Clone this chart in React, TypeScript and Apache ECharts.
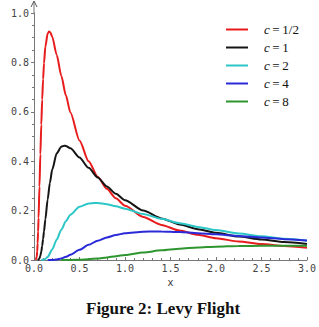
import React, { useEffect, useRef } from "react";
import * as echarts from "echarts";

const seriesNames = ["1/2", "1", "2", "4", "8"];
const seriesColors = ["#e81c1c", "#151515", "#2cc6c6", "#2a2ad8", "#2f952f"];

const xTicks = [0, 0.5, 1, 1.5, 2, 2.5, 3];
const yTicks = [0, 0.2, 0.4, 0.6, 0.8, 1.0];

const c05: [number, number][] = [
  [0.02, 0.0004], [0.03, 0.013], [0.035, 0.034], [0.04, 0.068], [0.045, 0.114], [0.05, 0.17],
  [0.06, 0.2975], [0.07, 0.428], [0.08, 0.548], [0.09, 0.65], [0.1, 0.732], [0.11, 0.797],
  [0.125, 0.864], [0.15, 0.917], [0.1667, 0.925], [0.18, 0.921], [0.2, 0.904], [0.25, 0.83],
  [0.3, 0.746], [0.35, 0.667], [0.4, 0.597], [0.5, 0.484], [0.6, 0.4], [0.7, 0.337],
  [0.8, 0.288], [0.9, 0.25], [1.0, 0.22], [1.2, 0.174], [1.4, 0.142], [1.6, 0.119],
  [1.8, 0.102], [2.0, 0.088], [2.25, 0.075], [2.5, 0.065], [2.75, 0.0565], [3.0, 0.05],
];
const c1: [number, number][] = [
  [0.04, 0.0002], [0.05, 0.0016], [0.06, 0.0065], [0.07, 0.017], [0.08, 0.034], [0.09, 0.057],
  [0.1, 0.085], [0.11, 0.116], [0.125, 0.165], [0.15, 0.245], [0.175, 0.313], [0.2, 0.366],
  [0.25, 0.432], [0.3, 0.459], [0.3333, 0.463], [0.35, 0.462], [0.4, 0.452], [0.5, 0.415],
  [0.6, 0.373], [0.7, 0.334], [0.8, 0.298], [0.9, 0.268], [1.0, 0.242], [1.2, 0.2],
  [1.4, 0.1685], [1.6, 0.144], [1.8, 0.125], [2.0, 0.11], [2.25, 0.095], [2.5, 0.083],
  [2.75, 0.073], [3.0, 0.065],
];
const c2: [number, number][] = [
  [0.08, 0.0001], [0.1, 0.0008], [0.125, 0.0043], [0.15, 0.0124], [0.2, 0.0425], [0.25, 0.083],
  [0.3, 0.1225], [0.35, 0.1565], [0.4, 0.183], [0.5, 0.216], [0.6, 0.229], [0.6667, 0.231],
  [0.7, 0.231], [0.8, 0.226], [0.9, 0.2175], [1.0, 0.2076], [1.2, 0.1865], [1.4, 0.1667],
  [1.6, 0.149], [1.8, 0.134], [2.0, 0.121], [2.25, 0.107], [2.5, 0.096], [2.75, 0.086],
  [3.0, 0.078],
];
const c4: [number, number][] = [
  [0.15, 0.0], [0.2, 0.0004], [0.25, 0.0021], [0.3, 0.0062], [0.35, 0.0127], [0.4, 0.0213],
  [0.5, 0.0413], [0.6, 0.0613], [0.7, 0.0783], [0.8, 0.0915], [0.9, 0.1013], [1.0, 0.108],
  [1.2, 0.1146], [1.3333, 0.1156], [1.4, 0.1154], [1.6, 0.113], [1.8, 0.1088], [2.0, 0.1038],
  [2.25, 0.0972], [2.5, 0.0907], [2.75, 0.0845], [3.0, 0.0788],
];
const c8: [number, number][] = [
  [0.3, 0.0], [0.4, 0.0002], [0.5, 0.0011], [0.6, 0.0031], [0.7, 0.0064], [0.8, 0.0106],
  [0.9, 0.0155], [1.0, 0.0207], [1.2, 0.0306], [1.4, 0.0391], [1.6, 0.0458], [1.8, 0.0506],
  [2.0, 0.054], [2.25, 0.0565], [2.5, 0.0576], [2.75, 0.0578], [3.0, 0.0572],
];

const allData = [c05, c1, c2, c4, c8];

export default function App() {
  const ref = useRef<HTMLDivElement>(null);
  useEffect(() => {
    if (!ref.current) return;
    const chart = echarts.init(ref.current, null, { renderer: "svg" });
    const labelFont = {
      fontFamily: "DejaVu Sans Mono",
      fontSize: 10,
      color: "#444",
    };
    chart.setOption({
      animation: false,
      backgroundColor: "#ffffff",
      grid: { left: 34, right: 4, top: 13, bottom: 67, containLabel: false },
      legend: {
        orient: "vertical",
        left: 221,
        top: 18,
        itemWidth: 22,
        itemHeight: 2,
        itemGap: 5,
        icon: "rect",
        data: seriesNames.map((n) => "c = " + n),
        formatter: (name: string) => "{i|c}{n|\u2009=\u2009" + name.slice(4) + "}",
        textStyle: {
          rich: {
            i: {
              fontFamily: "Liberation Serif",
              fontStyle: "italic",
              fontSize: 13,
              color: "#111",
              lineHeight: 14,
              padding: [0, 0, 0, 11],
            },
            n: {
              fontFamily: "Liberation Serif",
              fontSize: 13,
              color: "#111",
              lineHeight: 14,
            },
          },
        },
      },
      xAxis: {
        type: "value",
        min: xTicks[0],
        max: xTicks[xTicks.length - 1],
        interval: 0.5,
        name: "x",
        nameLocation: "middle",
        nameGap: 14,
        nameTextStyle: { fontFamily: "DejaVu Sans", fontSize: 10, color: "#444" },
        axisLine: { show: true, lineStyle: { color: "#777", width: 1 } },
        axisTick: { show: true, inside: true, length: 3, lineStyle: { color: "#777" } },
        minorTick: { show: true, splitNumber: 5, length: 2, lineStyle: { color: "#777" } },
        splitLine: { show: false },
        axisLabel: {
          ...labelFont,
          margin: 3,
          showMaxLabel: true,
          formatter: (v: number) => v.toFixed(1),
        },
      },
      yAxis: {
        type: "value",
        min: yTicks[0],
        max: yTicks[yTicks.length - 1],
        interval: 0.2,
        axisLine: { show: true, lineStyle: { color: "#777", width: 1 } },
        axisTick: { show: true, inside: false, length: 3, lineStyle: { color: "#777" } },
        minorTick: { show: true, splitNumber: 4, length: 2, lineStyle: { color: "#777" } },
        splitLine: { show: false },
        axisLabel: {
          ...labelFont,
          margin: 5,
          formatter: (v: number) => v.toFixed(1),
        },
      },
      graphic: [
        {
          type: "line",
          shape: { x1: 34, y1: 13, x2: 34, y2: 2 },
          style: { stroke: "#777", lineWidth: 1 },
        },
        {
          type: "polyline",
          shape: { points: [[31, 7], [34, 1], [37, 7]] },
          style: { stroke: "#555", lineWidth: 1, fill: null },
        },
        {
          type: "text",
          left: 86,
          top: 300,
          style: {
            text: "Figure 2: Levy Flight",
            font: "bold 17px 'Liberation Serif'",
            fill: "#111",
          },
        },
      ],
      series: allData.map((d, i) => ({
        name: "c = " + seriesNames[i],
        type: "line",
        data: d,
        showSymbol: false,
        smooth: 0.25,
        smoothMonotone: "x",
        clip: true,
        color: seriesColors[i],
        lineStyle: { width: 2, color: seriesColors[i] },
        z: 2 + i,
      })),
    });
    return () => chart.dispose();
  }, []);
  return (
    <div
      ref={ref}
      style={{ position: "absolute", left: 0, top: 0, width: 319, height: 327 }}
    />
  );
}
